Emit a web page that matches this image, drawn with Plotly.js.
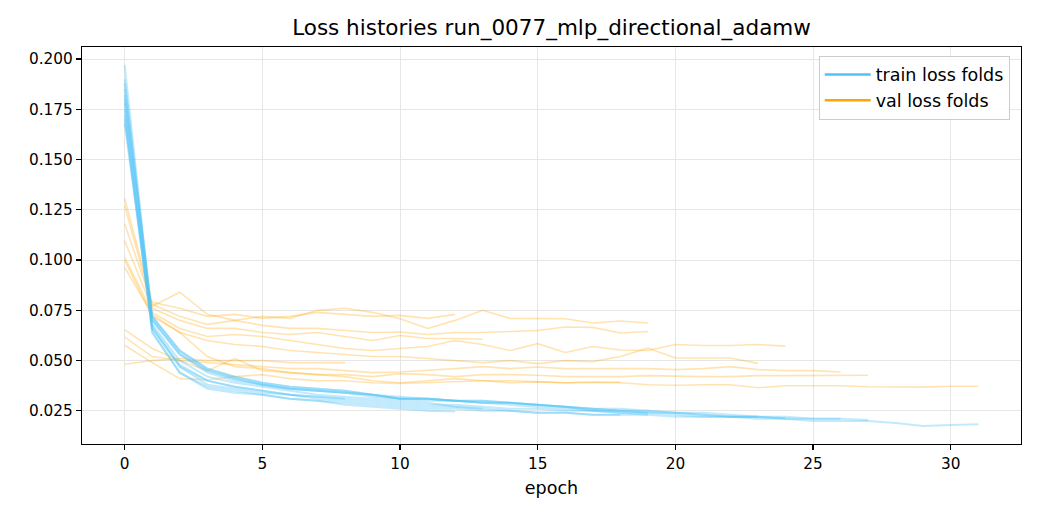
<!DOCTYPE html>
<html>
<head>
<meta charset="utf-8">
<script src="https://cdn.plot.ly/plotly-3.0.1.min.js"></script>
<style>
  html, body { margin: 0; padding: 0; background: #fff; }
  #myPlot { width: 1040px; height: 520px; }
</style>
</head>
<body>
<div id="myPlot"></div>
<script>
/// loss curves per fold

var trainFolds = [
    [0.170, 0.066, 0.047, 0.040, 0.037, 0.035, 0.033, 0.032, 0.031, 0.030, 0.029, 0.028, 0.028, 0.027, 0.026, 0.026, 0.025, 0.025, 0.024, 0.024, 0.023, 0.022, 0.022, 0.021, 0.021, 0.020, 0.020, 0.020, 0.019, 0.0175, 0.018, 0.0183],
    [0.188, 0.072, 0.055, 0.046, 0.042, 0.039, 0.037, 0.036, 0.035, 0.033, 0.031, 0.031, 0.030, 0.029, 0.029, 0.028, 0.027, 0.026, 0.026, 0.025, 0.024, 0.024, 0.023, 0.022, 0.022, 0.021, 0.021, 0.0205],
    [0.185, 0.071, 0.054, 0.045, 0.041, 0.038, 0.036, 0.035, 0.034, 0.033, 0.031, 0.030, 0.030, 0.029, 0.028, 0.027, 0.026, 0.025, 0.025, 0.024, 0.024, 0.023, 0.022, 0.022, 0.021, 0.021, 0.021],
    [0.197, 0.070, 0.053, 0.044, 0.040, 0.038, 0.036, 0.035, 0.034, 0.032, 0.031, 0.031, 0.030, 0.030, 0.029, 0.028, 0.027, 0.026, 0.025, 0.025, 0.024, 0.023, 0.022, 0.022, 0.0213],
    [0.175, 0.064, 0.044, 0.036, 0.034, 0.033, 0.031, 0.030, 0.029, 0.028, 0.027, 0.026, 0.026, 0.025, 0.025, 0.024, 0.024, 0.023, 0.023, 0.023, 0.022, 0.022, 0.022, 0.022],
    [0.190, 0.072, 0.055, 0.046, 0.042, 0.039, 0.037, 0.036, 0.035, 0.033, 0.031, 0.031, 0.030, 0.029, 0.029, 0.028, 0.027, 0.025, 0.024, 0.023],
    [0.182, 0.070, 0.053, 0.045, 0.041, 0.038, 0.036, 0.035, 0.034, 0.033, 0.032, 0.031, 0.030, 0.030, 0.029, 0.028, 0.027, 0.026, 0.025, 0.024],
    [0.168, 0.066, 0.047, 0.038, 0.036, 0.034, 0.033, 0.031, 0.030, 0.029, 0.028, 0.027, 0.027, 0.026, 0.025, 0.024, 0.024, 0.023, 0.023],
    [0.180, 0.068, 0.050, 0.042, 0.039, 0.037, 0.035, 0.033, 0.032, 0.031, 0.030, 0.029, 0.027, 0.026],
    [0.172, 0.064, 0.044, 0.037, 0.035, 0.033, 0.031, 0.030, 0.028, 0.027, 0.026, 0.025, 0.0247],
    [0.178, 0.067, 0.048, 0.040, 0.037, 0.035, 0.033, 0.032, 0.031]
];

var valFolds = [
    [0.0576, 0.049, 0.041, 0.0405, 0.042, 0.043, 0.041, 0.040, 0.040, 0.039, 0.0386, 0.039, 0.0395, 0.040, 0.040, 0.0394, 0.039, 0.039, 0.039, 0.038, 0.0377, 0.038, 0.038, 0.0365, 0.0375, 0.0375, 0.0375, 0.037, 0.037, 0.0368, 0.0372, 0.0372],
    [0.0617, 0.052, 0.050, 0.045, 0.051, 0.045, 0.044, 0.043, 0.043, 0.042, 0.0435, 0.043, 0.042, 0.043, 0.043, 0.0427, 0.042, 0.042, 0.042, 0.0425, 0.0422, 0.042, 0.042, 0.0425, 0.0425, 0.0425, 0.0427, 0.0427],
    [0.0654, 0.056, 0.050, 0.049, 0.048, 0.047, 0.046, 0.046, 0.045, 0.044, 0.0443, 0.045, 0.046, 0.047, 0.046, 0.0468, 0.046, 0.046, 0.046, 0.046, 0.0455, 0.046, 0.047, 0.0455, 0.045, 0.045, 0.0443],
    [0.1014, 0.074, 0.066, 0.062, 0.063, 0.062, 0.060, 0.058, 0.056, 0.055, 0.056, 0.057, 0.060, 0.058, 0.055, 0.0584, 0.054, 0.057, 0.0553, 0.055, 0.058, 0.0575, 0.0575, 0.058, 0.0572],
    [0.0964, 0.073, 0.064, 0.060, 0.058, 0.057, 0.055, 0.054, 0.053, 0.052, 0.052, 0.051, 0.050, 0.049, 0.050, 0.0485, 0.050, 0.0495, 0.052, 0.0562, 0.0513, 0.0513, 0.0513, 0.0486],
    [0.127, 0.077, 0.084, 0.073, 0.070, 0.072, 0.071, 0.075, 0.076, 0.074, 0.0708, 0.066, 0.070, 0.075, 0.071, 0.0708, 0.0708, 0.0687, 0.0697, 0.0687],
    [0.118, 0.078, 0.072, 0.068, 0.070, 0.0675, 0.066, 0.066, 0.065, 0.064, 0.0642, 0.063, 0.064, 0.064, 0.0645, 0.065, 0.0667, 0.0665, 0.0637, 0.0645],
    [0.100, 0.072, 0.064, 0.052, 0.047, 0.046, 0.044, 0.043, 0.042, 0.040, 0.039, 0.040, 0.041, 0.040, 0.039, 0.0394, 0.039, 0.0395, 0.0392],
    [0.1096, 0.076, 0.070, 0.066, 0.066, 0.064, 0.063, 0.064, 0.062, 0.060, 0.0625, 0.061, 0.061, 0.0606],
    [0.1305, 0.079, 0.076, 0.072, 0.073, 0.071, 0.072, 0.074, 0.073, 0.072, 0.0725, 0.071, 0.073],
    [0.0482, 0.050, 0.051, 0.050, 0.050, 0.050, 0.049, 0.049, 0.049]
];

var yTicks = [0.025, 0.050, 0.075, 0.100, 0.125, 0.150, 0.175, 0.200];
var xTicks = [0, 5, 10, 15, 20, 25, 30];

var trainColor = '#4fc3f7';
var valColor = '#ffa500';

function epochs(n) {
    var xs = [];
    for (var i = 0; i < n; i++) xs.push(i);
    return xs;
}

function renderPlot() {
    var traces = [];

    // val first so train sits on top, like the picture
    valFolds.forEach(function (ys) {
        traces.push({
            x: epochs(ys.length), y: ys,
            mode: 'lines', type: 'scatter',
            line: {color: valColor, width: 1.6},
            opacity: 0.3, showlegend: false, hoverinfo: 'skip'
        });
    });
    trainFolds.forEach(function (ys) {
        traces.push({
            x: epochs(ys.length), y: ys,
            mode: 'lines', type: 'scatter',
            line: {color: trainColor, width: 2},
            opacity: 0.35, showlegend: false, hoverinfo: 'skip'
        });
    });

    // legend only entries, drawn at full colour
    traces.push({x: [null], y: [null], mode: 'lines', type: 'scatter',
        name: 'train loss folds', line: {color: trainColor, width: 2.5}});
    traces.push({x: [null], y: [null], mode: 'lines', type: 'scatter',
        name: 'val loss folds', line: {color: valColor, width: 2.5}});

    var axisCommon = {
        showline: true, mirror: true, linecolor: '#000', linewidth: 1.2,
        ticks: 'outside', ticklen: 5, tickwidth: 1.2, tickcolor: '#000',
        showgrid: true, gridcolor: '#e6e6e6', gridwidth: 1,
        zeroline: false,
        tickfont: {family: 'DejaVu Sans', size: 15.3, color: '#000'}
    };

    var layout = {
        width: 1040, height: 520,
        paper_bgcolor: '#fff', plot_bgcolor: '#fff',
        margin: {l: 82, r: 19, t: 47, b: 76},
        font: {family: 'DejaVu Sans', color: '#000'},
        title: {text: 'Loss histories run_0077_mlp_directional_adamw',
            font: {family: 'DejaVu Sans', size: 21.5, color: '#000'},
            xref: 'paper', x: 0.5, xanchor: 'center', y: 0.948, yanchor: 'middle'},
        xaxis: Object.assign({}, axisCommon, {
            range: [-1.55, 32.55], tickvals: xTicks,
            title: {text: 'epoch', font: {family: 'DejaVu Sans', size: 17.5, color: '#000'}, standoff: 10}
        }),
        yaxis: Object.assign({}, axisCommon, {
            range: [0.0085, 0.206], tickvals: yTicks, tickformat: '.3f'
        }),
        legend: {
            x: 0.988, xanchor: 'right', y: 0.978, yanchor: 'top',
            itemwidth: 46,
            bgcolor: 'rgba(255,255,255,0.85)', bordercolor: '#cccccc', borderwidth: 1,
            font: {family: 'DejaVu Sans', size: 17.5, color: '#000'}
        },
        showlegend: true
    };

    Plotly.newPlot('myPlot', traces, layout, {displayModeBar: false, staticPlot: true});
}

renderPlot();
</script>
</body>
</html>
